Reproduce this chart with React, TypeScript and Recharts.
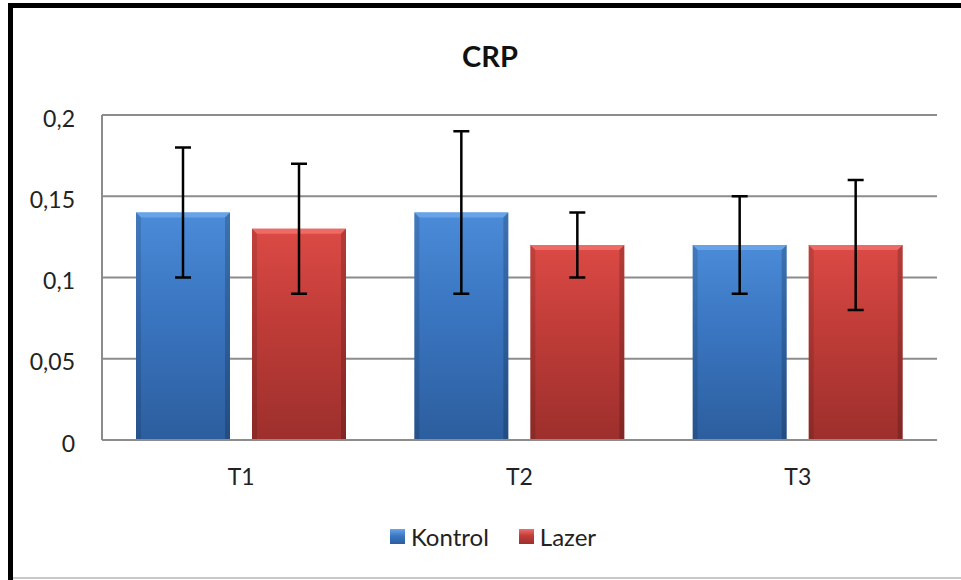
import React from 'react';
import { BarChart, Bar, XAxis, YAxis, CartesianGrid, ErrorBar, Legend } from 'recharts';

const categories = ['T1', 'T2', 'T3'];
const kontrolValues = [0.14, 0.14, 0.12];
const lazerValues = [0.13, 0.12, 0.12];
const kontrolErrors = [0.04, 0.05, 0.03];
const lazerErrors = [0.04, 0.02, 0.04];
const yTicks = [0, 0.05, 0.1, 0.15, 0.2];
const yTickLabels = ['0', '0,05', '0,1', '0,15', '0,2'];
const seriesNames = ['Kontrol', 'Lazer'];

const data = categories.map((c, i) => ({
  name: c,
  kontrol: kontrolValues[i],
  lazer: lazerValues[i],
  kontrolErr: kontrolErrors[i],
  lazerErr: lazerErrors[i],
}));

const FONT = 'Lato, "Open Sans", sans-serif';

const palettes = {
  blue: { top: '#4b8bd7', mid: '#3b77c3', bottom: '#2c5e9e', light: '#6aa5ea' },
  red: { top: '#dc4a45', mid: '#c23d39', bottom: '#9d2f2c', light: '#ee6e69' },
};

const makeShape = (key: 'blue' | 'red') => (props: any) => {
  const { x, y, width, height, index } = props;
  if (!width || !height || height <= 0) return <g />;
  const p = palettes[key];
  const id = `grad-${key}-${index}`;
  const b = 5;
  return (
    <g>
      <defs>
        <linearGradient id={id} x1="0" y1="0" x2="0" y2="1">
          <stop offset="0%" stopColor={p.top} />
          <stop offset="40%" stopColor={p.mid} />
          <stop offset="100%" stopColor={p.bottom} />
        </linearGradient>
      </defs>
      <rect x={x} y={y} width={width} height={height} fill={`url(#${id})`} />
      <polygon
        points={`${x},${y} ${x + width},${y} ${x + width - b},${y + b} ${x + b},${y + b}`}
        fill={p.light}
        opacity={0.9}
      />
      <polygon
        points={`${x},${y} ${x + b},${y + b} ${x + b},${y + height} ${x},${y + height}`}
        fill="#000"
        opacity={0.12}
      />
      <polygon
        points={`${x + width},${y} ${x + width - b},${y + b} ${x + width - b},${y + height} ${x + width},${y + height}`}
        fill="#000"
        opacity={0.18}
      />
    </g>
  );
};

const YTick = (props: any) => {
  const { x, y, payload } = props;
  const idx = yTicks.indexOf(payload.value);
  return (
    <text x={x} y={y + 11.5} textAnchor="end" fontFamily={FONT} fontSize={23} fill="#222">
      {idx >= 0 ? yTickLabels[idx] : String(payload.value)}
    </text>
  );
};

const XTick = (props: any) => {
  const { x, y, payload } = props;
  return (
    <text x={x} y={y + 43} textAnchor="middle" fontFamily={FONT} fontSize={23} fill="#222">
      {payload.value}
    </text>
  );
};

const LegendContent = () => {
  const items = [
    { name: seriesNames[0], p: palettes.blue },
    { name: seriesNames[1], p: palettes.red },
  ];
  return (
    <div
      style={{
        display: 'flex',
        justifyContent: 'center',
        alignItems: 'center',
        paddingLeft: 25,
        fontFamily: FONT,
        fontSize: 24,
        color: '#222',
      }}
    >
      {items.map((it, i) => (
        <div key={it.name} style={{ display: 'flex', alignItems: 'center', marginLeft: i === 0 ? 0 : 30 }}>
          <div
            style={{
              width: 15,
              height: 15,
              background: `linear-gradient(${it.p.light}, ${it.p.mid} 45%, ${it.p.bottom})`,
              marginRight: 6,
            }}
          />
          <span>{it.name}</span>
        </div>
      ))}
    </div>
  );
};

export default function App() {
  return (
    <div style={{ position: 'absolute', left: 0, top: 0, width: 961, height: 580, background: '#fff', overflow: 'hidden' }}>
      <div style={{ position: 'absolute', left: 8, top: 3, width: 1000, height: 5, background: '#000' }} />
      <div style={{ position: 'absolute', left: 8, top: 3, width: 5, height: 600, background: '#000' }} />
      <div style={{ position: 'absolute', left: 13, top: 577, width: 1000, height: 2, background: '#c8c8c8' }} />
      <svg style={{ position: 'absolute', left: 0, top: 0 }} width={961} height={100}>
        <text x={490} y={66.5} textAnchor="middle" fontFamily={FONT} fontWeight="bold" fontSize={29} fill="#111">
          CRP
        </text>
      </svg>
      <div style={{ position: 'absolute', left: 0, top: 0 }}>
        <BarChart
          width={961}
          height={580}
          data={data}
          margin={{ top: 115, right: 24, left: 0, bottom: 100 }}
          barSize={94}
          barGap={22}
        >
          <CartesianGrid vertical={false} stroke="#8c8c8c" strokeWidth={2} />
          <XAxis
            dataKey="name"
            height={40}
            axisLine={{ stroke: '#8c8c8c', strokeWidth: 2 }}
            tickLine={false}
            tickSize={0}
            tick={<XTick />}
          />
          <YAxis
            width={102}
            domain={[0, 0.2]}
            ticks={yTicks}
            axisLine={{ stroke: '#8c8c8c', strokeWidth: 2 }}
            tickLine={false}
            tickSize={0}
            tickMargin={27}
            tick={<YTick />}
          />
          <Legend
            layout="horizontal"
            verticalAlign="middle"
            align="center"
            content={<LegendContent />}
            wrapperStyle={{ top: 522, left: 0, width: 961 }}
          />
          <Bar dataKey="kontrol" name={seriesNames[0]} shape={makeShape('blue')} isAnimationActive={false}>
            <ErrorBar dataKey="kontrolErr" width={8} stroke="#000" strokeWidth={2.5} direction="y" />
          </Bar>
          <Bar dataKey="lazer" name={seriesNames[1]} shape={makeShape('red')} isAnimationActive={false}>
            <ErrorBar dataKey="lazerErr" width={8} stroke="#000" strokeWidth={2.5} direction="y" />
          </Bar>
        </BarChart>
      </div>
    </div>
  );
}
